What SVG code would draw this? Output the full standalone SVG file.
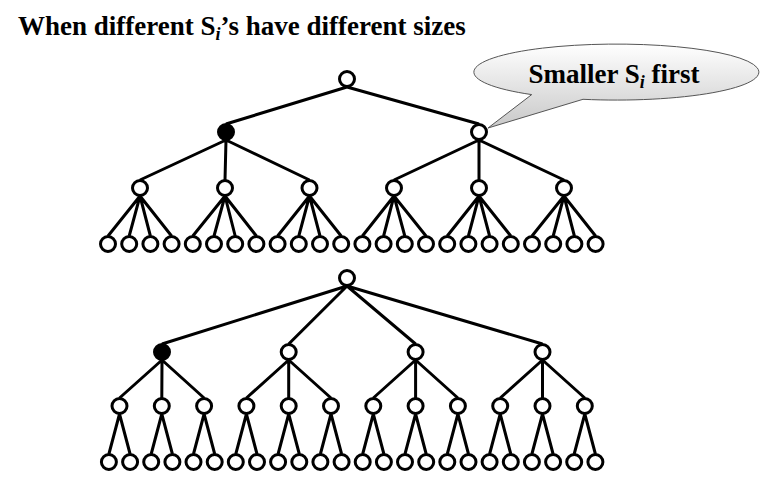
<svg xmlns="http://www.w3.org/2000/svg" width="760" height="485" viewBox="0 0 760 485">
<style>
.t{font-family:'Liberation Serif','Times New Roman',Times,serif;font-weight:700;font-size:27px;fill:#000}
.sub{font-style:italic;font-size:18px}
.e{fill:none;stroke:#000;stroke-width:3}
.n{fill:#fff;stroke:#000;stroke-width:3}
.f{fill:#000;stroke:#000;stroke-width:3}
</style>
<defs>
<linearGradient id="bg" x1="0" y1="0" x2="0" y2="1">
<stop offset="0" stop-color="#ffffff"/>
<stop offset="1" stop-color="#c8c8c8"/>
</linearGradient>
</defs>
<rect width="760" height="485" fill="#fff"/>
<text class="t" font-family="Liberation Serif, serif" x="18" y="35">When different S<tspan class="sub" dy="5">i</tspan><tspan dy="-5">’s have different sizes</tspan></text>

<g id="connectors">
<path class="e" d="M347 87L226 124M347 87L479 124"/>
<path class="e" d="M226 140L140 180M226 140L225 180M226 140L309.5 180"/>
<path class="e" d="M479 140L394 180M479 140L479 180M479 140L564 180"/>
<path class="e" d="M140 196L108 236M140 196L129.2 236M140 196L150.4 236M140 196L171.6 236"/>
<path class="e" d="M225 196L192.8 236M225 196L214 236M225 196L235.2 236M225 196L256.4 236"/>
<path class="e" d="M309.5 196L277.6 236M309.5 196L298.8 236M309.5 196L320 236M309.5 196L341.2 236"/>
<path class="e" d="M394 196L362.4 236M394 196L383.6 236M394 196L404.8 236M394 196L426 236"/>
<path class="e" d="M479 196L447.2 236M479 196L468.4 236M479 196L489.6 236M479 196L510.8 236"/>
<path class="e" d="M564 196L532 236M564 196L553.2 236M564 196L574.4 236M564 196L595.6 236"/>
<path class="e" d="M347 286L162 344M347 286L288.7 344M347 286L415.6 344M347 286L542.5 344"/>
<path class="e" d="M162 360L119.5 398M162 360L161.8 398M162 360L204.1 398"/>
<path class="e" d="M288.7 360L246.4 398M288.7 360L288.7 398M288.7 360L331 398"/>
<path class="e" d="M415.6 360L373.3 398M415.6 360L415.6 398M415.6 360L457.9 398"/>
<path class="e" d="M542.5 360L500.2 398M542.5 360L542.5 398M542.5 360L584.8 398"/>
<path class="e" d="M119.5 414L108.9 454M119.5 414L130.1 454M161.8 414L151.2 454M161.8 414L172.4 454M204.1 414L193.5 454M204.1 414L214.7 454"/>
<path class="e" d="M246.4 414L235.8 454M246.4 414L257 454M288.7 414L278.1 454M288.7 414L299.3 454M331 414L320.4 454M331 414L341.6 454"/>
<path class="e" d="M373.3 414L362.7 454M373.3 414L383.9 454M415.6 414L405 454M415.6 414L426.2 454M457.9 414L447.3 454M457.9 414L468.5 454"/>
<path class="e" d="M500.2 414L489.6 454M500.2 414L510.8 454M542.5 414L531.9 454M542.5 414L553.1 454M584.8 414L574.2 454M584.8 414L595.4 454"/>
</g>

<g id="t-root"><circle class="n" cx="347" cy="79" r="7.5"/></g>
<g id="t-a"><circle class="f" cx="226" cy="132" r="7.5"/></g>
<g id="t-b"><circle class="n" cx="479" cy="132" r="7.5"/></g>
<g id="t-a1"><circle class="n" cx="140" cy="188" r="7.5"/></g>
<g id="t-a2"><circle class="n" cx="225" cy="188" r="7.5"/></g>
<g id="t-a3"><circle class="n" cx="309.5" cy="188" r="7.5"/></g>
<g id="t-b1"><circle class="n" cx="394" cy="188" r="7.5"/></g>
<g id="t-b2"><circle class="n" cx="479" cy="188" r="7.5"/></g>
<g id="t-b3"><circle class="n" cx="564" cy="188" r="7.5"/></g>
<g id="t-l1"><circle class="n" cx="108" cy="244" r="7.5"/></g>
<g id="t-l2"><circle class="n" cx="129.2" cy="244" r="7.5"/></g>
<g id="t-l3"><circle class="n" cx="150.4" cy="244" r="7.5"/></g>
<g id="t-l4"><circle class="n" cx="171.6" cy="244" r="7.5"/></g>
<g id="t-l5"><circle class="n" cx="192.8" cy="244" r="7.5"/></g>
<g id="t-l6"><circle class="n" cx="214" cy="244" r="7.5"/></g>
<g id="t-l7"><circle class="n" cx="235.2" cy="244" r="7.5"/></g>
<g id="t-l8"><circle class="n" cx="256.4" cy="244" r="7.5"/></g>
<g id="t-l9"><circle class="n" cx="277.6" cy="244" r="7.5"/></g>
<g id="t-l10"><circle class="n" cx="298.8" cy="244" r="7.5"/></g>
<g id="t-l11"><circle class="n" cx="320" cy="244" r="7.5"/></g>
<g id="t-l12"><circle class="n" cx="341.2" cy="244" r="7.5"/></g>
<g id="t-l13"><circle class="n" cx="362.4" cy="244" r="7.5"/></g>
<g id="t-l14"><circle class="n" cx="383.6" cy="244" r="7.5"/></g>
<g id="t-l15"><circle class="n" cx="404.8" cy="244" r="7.5"/></g>
<g id="t-l16"><circle class="n" cx="426" cy="244" r="7.5"/></g>
<g id="t-l17"><circle class="n" cx="447.2" cy="244" r="7.5"/></g>
<g id="t-l18"><circle class="n" cx="468.4" cy="244" r="7.5"/></g>
<g id="t-l19"><circle class="n" cx="489.6" cy="244" r="7.5"/></g>
<g id="t-l20"><circle class="n" cx="510.8" cy="244" r="7.5"/></g>
<g id="t-l21"><circle class="n" cx="532" cy="244" r="7.5"/></g>
<g id="t-l22"><circle class="n" cx="553.2" cy="244" r="7.5"/></g>
<g id="t-l23"><circle class="n" cx="574.4" cy="244" r="7.5"/></g>
<g id="t-l24"><circle class="n" cx="595.6" cy="244" r="7.5"/></g>

<g id="b-root"><circle class="n" cx="347" cy="278" r="7.5"/></g>
<g id="b-a"><circle class="f" cx="162" cy="352" r="7.5"/></g>
<g id="b-b"><circle class="n" cx="288.7" cy="352" r="7.5"/></g>
<g id="b-c"><circle class="n" cx="415.6" cy="352" r="7.5"/></g>
<g id="b-d"><circle class="n" cx="542.5" cy="352" r="7.5"/></g>
<g id="b-m1"><circle class="n" cx="119.5" cy="406" r="7.5"/></g>
<g id="b-m2"><circle class="n" cx="161.8" cy="406" r="7.5"/></g>
<g id="b-m3"><circle class="n" cx="204.1" cy="406" r="7.5"/></g>
<g id="b-m4"><circle class="n" cx="246.4" cy="406" r="7.5"/></g>
<g id="b-m5"><circle class="n" cx="288.7" cy="406" r="7.5"/></g>
<g id="b-m6"><circle class="n" cx="331" cy="406" r="7.5"/></g>
<g id="b-m7"><circle class="n" cx="373.3" cy="406" r="7.5"/></g>
<g id="b-m8"><circle class="n" cx="415.6" cy="406" r="7.5"/></g>
<g id="b-m9"><circle class="n" cx="457.9" cy="406" r="7.5"/></g>
<g id="b-m10"><circle class="n" cx="500.2" cy="406" r="7.5"/></g>
<g id="b-m11"><circle class="n" cx="542.5" cy="406" r="7.5"/></g>
<g id="b-m12"><circle class="n" cx="584.8" cy="406" r="7.5"/></g>
<g id="b-l1"><circle class="n" cx="108.9" cy="462" r="7.5"/></g>
<g id="b-l2"><circle class="n" cx="130.1" cy="462" r="7.5"/></g>
<g id="b-l3"><circle class="n" cx="151.2" cy="462" r="7.5"/></g>
<g id="b-l4"><circle class="n" cx="172.4" cy="462" r="7.5"/></g>
<g id="b-l5"><circle class="n" cx="193.5" cy="462" r="7.5"/></g>
<g id="b-l6"><circle class="n" cx="214.7" cy="462" r="7.5"/></g>
<g id="b-l7"><circle class="n" cx="235.8" cy="462" r="7.5"/></g>
<g id="b-l8"><circle class="n" cx="257" cy="462" r="7.5"/></g>
<g id="b-l9"><circle class="n" cx="278.1" cy="462" r="7.5"/></g>
<g id="b-l10"><circle class="n" cx="299.3" cy="462" r="7.5"/></g>
<g id="b-l11"><circle class="n" cx="320.4" cy="462" r="7.5"/></g>
<g id="b-l12"><circle class="n" cx="341.6" cy="462" r="7.5"/></g>
<g id="b-l13"><circle class="n" cx="362.7" cy="462" r="7.5"/></g>
<g id="b-l14"><circle class="n" cx="383.9" cy="462" r="7.5"/></g>
<g id="b-l15"><circle class="n" cx="405" cy="462" r="7.5"/></g>
<g id="b-l16"><circle class="n" cx="426.2" cy="462" r="7.5"/></g>
<g id="b-l17"><circle class="n" cx="447.3" cy="462" r="7.5"/></g>
<g id="b-l18"><circle class="n" cx="468.5" cy="462" r="7.5"/></g>
<g id="b-l19"><circle class="n" cx="489.6" cy="462" r="7.5"/></g>
<g id="b-l20"><circle class="n" cx="510.8" cy="462" r="7.5"/></g>
<g id="b-l21"><circle class="n" cx="531.9" cy="462" r="7.5"/></g>
<g id="b-l22"><circle class="n" cx="553.1" cy="462" r="7.5"/></g>
<g id="b-l23"><circle class="n" cx="574.2" cy="462" r="7.5"/></g>
<g id="b-l24"><circle class="n" cx="595.4" cy="462" r="7.5"/></g>

<g id="callout">
<path d="M583 99.3A142.5 28 0 1 0 531.7 94.6L488 128Z" fill="url(#bg)" stroke="#555" stroke-width="1"/>
<text class="t" font-family="Liberation Serif, serif" x="614" y="83" text-anchor="middle">Smaller S<tspan class="sub" dy="5">i</tspan><tspan dy="-5"> first</tspan></text>
</g>
</svg>
